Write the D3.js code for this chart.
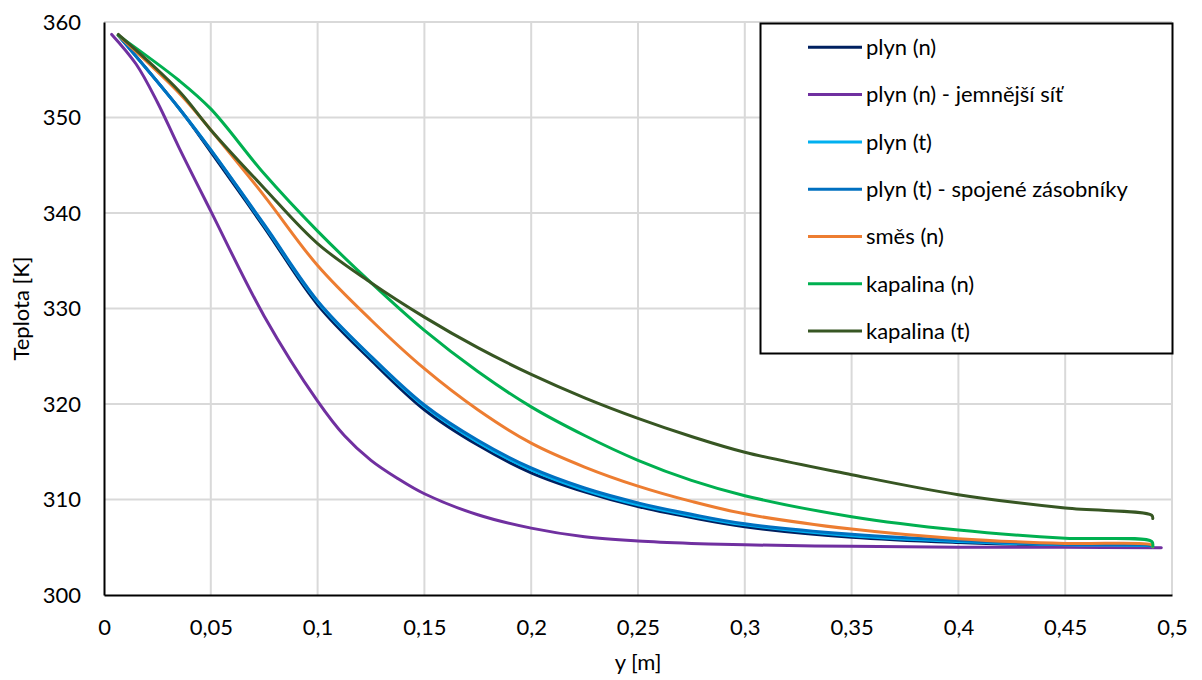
<!DOCTYPE html>
<html><head><meta charset="utf-8">
<script src="https://cdn.jsdelivr.net/npm/d3@7"></script>
<style>
html,body{margin:0;padding:0;background:#fff;}
text{font-family:Lato,"Open Sans",sans-serif;fill:#000;}
</style></head>
<body><svg id="c" width="1202" height="680"></svg>
<script>
const xTicks = [0,0.05,0.1,0.15,0.2,0.25,0.3,0.35,0.4,0.45,0.5];
const yTicks = [300,310,320,330,340,350,360];
const seriesNames = ["plyn (n)","plyn (n) - jemnější síť","plyn (t)","plyn (t) - spojené zásobníky","směs (n)","kapalina (n)","kapalina (t)"];
const seriesColors = ["#002060","#7030A0","#00B0F0","#0070C0","#ED7D31","#00B050","#375623"];

const xCoarse = [0.0067,0.035,0.05,0.075,0.1,0.125,0.15,0.175,0.2,0.225,0.25,0.275,0.3,0.35,0.4,0.45,0.4905,0.491];
const xFine = [0.0036,0.015,0.025,0.035,0.05,0.075,0.1,0.1125,0.125,0.1375,0.15,0.175,0.2,0.225,0.25,0.275,0.3,0.35,0.4,0.45,0.495];

const plynN      = [358.6,351.0,346.4,338.5,330.4,324.6,319.4,315.7,312.8,310.8,309.25,308.1,307.15,306.05,305.5,305.2,305.1,305.0];
const plynNFine  = [358.7,355.6,351.6,346.9,340.2,329.2,320.3,316.7,314.1,312.2,310.6,308.4,307.0,306.1,305.65,305.4,305.25,305.1,305.0,305.0,304.95];
const plynT      = [358.6,351.0,346.6,338.7,330.7,324.9,319.75,316.0,313.1,311.0,309.45,308.3,307.35,306.2,305.6,305.25,305.12,305.05];
const plynTSpoj  = [358.6,351.0,346.6,338.8,330.8,325.0,319.9,316.2,313.3,311.2,309.65,308.45,307.45,306.35,305.7,305.3,305.15,305.05];
const smesN      = [358.6,352.6,348.7,341.8,334.5,328.8,323.7,319.4,315.9,313.4,311.4,309.8,308.5,306.9,305.9,305.4,305.25,305.05];
const kapalinaN  = [358.6,353.9,350.9,344.1,338.1,332.7,327.7,323.4,319.7,316.7,314.1,312.0,310.4,308.2,306.8,305.95,305.6,305.1];
const kapalinaT  = [358.7,352.8,348.7,342.6,336.8,332.7,329.1,325.9,323.1,320.65,318.5,316.6,314.95,312.6,310.5,309.1,308.35,308.0];

const seriesX = [xCoarse,xFine,xCoarse,xCoarse,xCoarse,xCoarse,xCoarse];
const seriesY = [plynN,plynNFine,plynT,plynTSpoj,smesN,kapalinaN,kapalinaT];

const svg = d3.select("#c");
const L=104,R=1172,T=22,B=595;
const x = d3.scaleLinear().domain([0,0.5]).range([L,R]);
const y = d3.scaleLinear().domain([300,360]).range([B,T]);
const loc = d3.formatLocale({decimal:",",thousands:" ",grouping:[3],currency:["",""]});
const fx = v => loc.format("~r")(v);
const FS = "22px";

// gridlines
svg.append("g").selectAll("line").data(xTicks.filter(d=>d>0)).join("line")
  .attr("x1",d=>x(d)).attr("x2",d=>x(d)).attr("y1",T).attr("y2",B)
  .attr("stroke","#d9d9d9").attr("stroke-width",2);
svg.append("g").selectAll("line").data(yTicks.filter(d=>d>300)).join("line")
  .attr("x1",L).attr("x2",R).attr("y1",d=>y(d)).attr("y2",d=>y(d))
  .attr("stroke","#d9d9d9").attr("stroke-width",2);

// axes
const xAxis = svg.append("g").attr("transform",`translate(0,${B})`)
  .call(d3.axisBottom(x).tickValues(xTicks).tickFormat(fx).tickSize(0).tickPadding(24));
const yAxis = svg.append("g").attr("transform",`translate(${L},0)`)
  .call(d3.axisLeft(y).tickValues(yTicks).tickFormat(d3.format("d")).tickSize(0).tickPadding(23));
[xAxis,yAxis].forEach(a=>{
  a.select(".domain").attr("stroke","#000").attr("stroke-width",2);
  a.selectAll("text").style("font-family","Lato, 'Open Sans', sans-serif").style("font-size",FS).attr("fill","#000");
});

// lines
const line = d3.line().curve(d3.curveCatmullRom.alpha(0.5));
seriesY.forEach((vals,i)=>{
  const pts = vals.map((v,j)=>[x(seriesX[i][j]), y(v)]);
  svg.append("path").attr("d",line(pts)).attr("fill","none")
    .attr("stroke",seriesColors[i]).attr("stroke-width",3)
    .attr("stroke-linejoin","round").attr("stroke-linecap","round");
});

// axis titles
svg.append("text").attr("x",(L+R)/2).attr("y",670).attr("text-anchor","middle")
  .style("font-size",FS).text("y [m]");
svg.append("text").attr("transform",`translate(29,${(T+B)/2}) rotate(-90)`).attr("text-anchor","middle")
  .style("font-size",FS).text("Teplota [K]");

// legend
const lg = svg.append("g");
lg.append("rect").attr("x",760.5).attr("y",23.5).attr("width",412).attr("height",330)
  .attr("fill","#fff").attr("stroke","#000").attr("stroke-width",2);
seriesNames.forEach((n,i)=>{
  const yy = 47.3 + i*47.3;
  lg.append("line").attr("x1",808).attr("x2",862).attr("y1",yy).attr("y2",yy)
    .attr("stroke",seriesColors[i]).attr("stroke-width",3);
  lg.append("text").attr("x",866).attr("y",yy).attr("dy","0.35em").style("font-size",FS).text(n);
});
</script></body></html>
